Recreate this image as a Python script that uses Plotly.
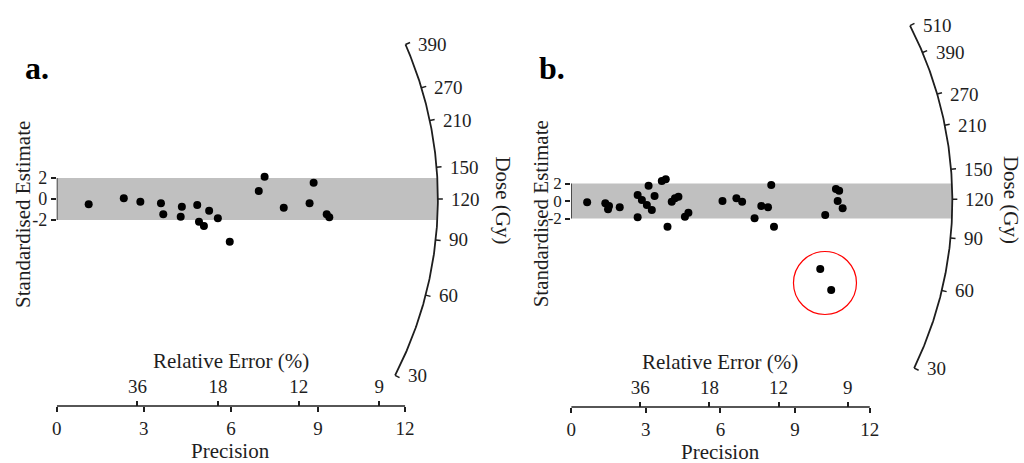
import numpy as np
import plotly.graph_objects as go

W, H = 1024, 463
FONT = "Liberation Serif"
INK = "#1e1e1e"

# ---------------- data ----------------
prec_a = [1.10, 2.31, 2.88, 3.59, 3.67, 4.31, 4.27, 4.84, 4.90, 5.07, 5.25, 5.55,
          5.96, 7.16, 6.96, 7.82, 8.85, 8.71, 9.30, 9.39]
z_a = [-0.50, 0.06, -0.26, -0.41, -1.46, -0.73, -1.69, -0.57, -2.16, -2.57, -1.11, -1.84,
       -4.07, 2.12, 0.76, -0.83, 1.55, -0.41, -1.46, -1.74]

prec_b = [0.64, 1.37, 1.48, 1.52, 1.95, 2.67, 2.84, 3.04, 3.24, 3.11, 3.35, 3.64, 3.80,
          2.67, 4.04, 4.17, 4.31, 4.57, 4.71, 3.87, 6.08, 6.64, 6.87, 7.64, 7.91, 8.04,
          7.37, 8.15, 10.21, 10.64, 10.77, 10.71, 10.91, 10.01, 10.45]
z_b = [-0.15, -0.26, -0.95, -0.57, -0.72, 0.69, 0.11, -0.46, -1.03, 1.75, 0.57, 2.29, 2.48,
       -1.86, -0.08, 0.31, 0.49, -1.79, -1.34, -2.94, 0.00, 0.31, -0.08, -0.57, -0.72, 1.83,
       -1.98, -2.94, -1.60, 1.37, 1.18, 0.00, -0.83, -7.77, -10.17]

prec_ticks = [0, 3, 6, 9, 12]
relerr_ticks = [36, 18, 12, 9]
z_ticks = [-2, 0, 2]
z_ticklabels = ["-2", "0", "2"]
dose_ticks_a = [30, 60, 90, 120, 150, 210, 270, 390]
dose_ticks_b = [30, 60, 90, 120, 150, 210, 270, 390, 510]
central_dose_a = 120.0
central_dose_b = 118.5
band = (-2, 2)

# ---------------- geometry (pixels) ----------------
panels = {
    "a": dict(ox=52, oy=199, sx=29.17, sy=10.5, k=0.374, R=383, xr=518, axis_py=406,
              prec=prec_a, z=z_a, doses=dose_ticks_a, D0=central_dose_a, xa="x", ya="y", xr2="x3",
              label="a.", label_px=18, ytitle_px=18, dose_title_px=500),
    "b": dict(ox=569, oy=201, sx=25.0, sy=8.75, k=0.353, R=383, xr=1024, axis_py=407,
              prec=prec_b, z=z_b, doses=dose_ticks_b, D0=central_dose_b, xa="x2", ya="y2", xr2="x4",
              label="b.", label_px=535, ytitle_px=539, dose_title_px=1011),
}
TOP_PX, BOT_PX = 10, 430

fig = go.Figure()
shapes, annotations = [], []
layout_axes = {}

for idx, (key, p) in enumerate(panels.items()):
    ox, oy, sx, sy, k, R = p["ox"], p["oy"], p["sx"], p["sy"], p["k"], p["R"]
    xdom = [ox / W, p["xr"] / W]
    xrange = [0, (p["xr"] - ox) / sx]
    ydom = [(H - BOT_PX) / H, (H - TOP_PX) / H]
    yrange = [-(BOT_PX - oy) / sy, (oy - TOP_PX) / sy]
    axis_pos = (H - p["axis_py"]) / H
    axis_y_data = -(p["axis_py"] - oy) / sy
    xa, ya, xr2 = p["xa"], p["ya"], p["xr2"]
    xname = "xaxis" if xa == "x" else "xaxis" + xa[1:]
    yname = "yaxis" if ya == "y" else "yaxis" + ya[1:]
    x2name = "xaxis" + xr2[1:]

    tickfont = dict(family=FONT, size=19, color=INK)
    layout_axes[xname] = dict(domain=xdom, range=xrange, anchor="free", position=axis_pos,
                              showline=False, showgrid=False, zeroline=False,
                              tickvals=prec_ticks, ticks="outside", ticklen=5, tickwidth=1.5,
                              tickcolor=INK, tickfont=tickfont, fixedrange=True)
    layout_axes[x2name] = dict(overlaying=xa, side="top", range=xrange, anchor="free",
                               position=axis_pos,
                               showline=False, showgrid=False, zeroline=False,
                               tickvals=[100.0 / v for v in relerr_ticks],
                               ticktext=[str(v) for v in relerr_ticks],
                               ticks="outside", ticklen=5, tickwidth=1.5, tickcolor=INK,
                               tickfont=tickfont, fixedrange=True)
    layout_axes[yname] = dict(domain=ydom, range=yrange, anchor=xa,
                              showline=False, showgrid=False, zeroline=False,
                              tickvals=z_ticks, ticktext=z_ticklabels, ticks="outside",
                              ticklen=5, tickwidth=1.5, tickcolor=INK,
                              tickfont=dict(family=FONT, size=18 if key == "a" else 17, color=INK),
                              fixedrange=True)

    # band
    shapes.append(dict(type="rect", xref=xa, yref=ya, x0=0, x1=R / sx, y0=band[0], y1=band[1],
                       fillcolor="#c0c0c0", line=dict(width=0), layer="below"))
    # short vertical y axis line
    shapes.append(dict(type="line", xref=xa, yref=ya, x0=0, x1=0, y0=band[0], y1=band[1],
                       line=dict(color=INK, width=1.5)))
    # precision axis line (0..12)
    shapes.append(dict(type="line", xref=xa, yref="paper", x0=prec_ticks[0], x1=prec_ticks[-1],
                       y0=axis_pos, y1=axis_pos, line=dict(color=INK, width=1.5)))

    # points
    fig.add_trace(go.Scatter(x=p["prec"], y=p["z"], mode="markers", xaxis=xa, yaxis=ya,
                             marker=dict(color="black", size=8), showlegend=False,
                             hoverinfo="skip"))
    # invisible carrier trace so the relative-error axis is drawn
    rel_x = [100.0 / v for v in relerr_ticks]
    fig.add_trace(go.Scatter(x=rel_x, y=[axis_y_data] * len(rel_x), mode="markers",
                             xaxis=xr2, yaxis=ya, marker=dict(size=1, opacity=0),
                             showlegend=False, hoverinfo="skip"))

    # radial dose axis
    doses = p["doses"]
    D0 = p["D0"]
    th_lo = np.arctan(k * np.log(min(doses) / D0))
    th_hi = np.arctan(k * np.log(max(doses) / D0))
    th = np.linspace(th_lo, th_hi, 200)
    fig.add_trace(go.Scatter(x=R * np.cos(th) / sx, y=R * np.sin(th) / sy, mode="lines",
                             xaxis=xa, yaxis=ya, line=dict(color=INK, width=1.8),
                             showlegend=False, hoverinfo="skip"))
    tx, ty = [], []
    for d in doses:
        t = np.arctan(k * np.log(d / D0))
        tx += [R * np.cos(t) / sx, (R + 5) * np.cos(t) / sx, None]
        ty += [R * np.sin(t) / sy, (R + 5) * np.sin(t) / sy, None]
        annotations.append(dict(x=R * np.cos(t) / sx, y=R * np.sin(t) / sy, xref=xa, yref=ya,
                                text=str(d), showarrow=False, xanchor="left", yanchor="middle",
                                xshift=11, font=dict(family=FONT, size=19, color=INK)))
    fig.add_trace(go.Scatter(x=tx, y=ty, mode="lines", xaxis=xa, yaxis=ya,
                             line=dict(color=INK, width=1.5), showlegend=False,
                             hoverinfo="skip"))

    titlefont = dict(family=FONT, size=21, color=INK)
    # Relative error title
    annotations.append(dict(x=6, y=(H - (p["axis_py"] - 45)) / H, xref=xa, yref="paper",
                            text="Relative Error (%)", showarrow=False, xanchor="center",
                            yanchor="middle", font=titlefont))
    # Precision title
    annotations.append(dict(x=6, y=(H - (p["axis_py"] + 45)) / H, xref=xa, yref="paper",
                            text="Precision", showarrow=False, xanchor="center",
                            yanchor="middle", font=titlefont))
    # y title
    annotations.append(dict(x=p["ytitle_px"] / W, y=(H - 214) / H, xref="paper", yref="paper",
                            text="Standardised Estimate", textangle=-90, showarrow=False,
                            xanchor="center", yanchor="middle", font=titlefont))
    # dose title
    annotations.append(dict(x=p["dose_title_px"] / W, y=(H - 200) / H, xref="paper",
                            yref="paper", text="Dose (Gy)", textangle=90, showarrow=False,
                            xanchor="center", yanchor="middle", font=titlefont))
    # panel label
    annotations.append(dict(x=p["label_px"] / W, y=(H - 68) / H, xref="paper", yref="paper",
                            text="<b>" + p["label"] + "</b>", showarrow=False, xanchor="left",
                            yanchor="middle", font=dict(family=FONT, size=32, color="black")))

# red circle around outliers in panel b
shapes.append(dict(type="circle", xref="x2", yref="y2", xsizemode="pixel", ysizemode="pixel",
                   xanchor=10.2, yanchor=-9.37, x0=-31.5, x1=31.5, y0=-31.5, y1=31.5,
                   line=dict(color="red", width=1.2)))

fig.update_layout(width=W, height=H, margin=dict(l=0, r=0, t=0, b=0, pad=0),
                  plot_bgcolor="white", paper_bgcolor="white", showlegend=False,
                  shapes=shapes, annotations=annotations, **layout_axes)

fig.write_html("out.html")
